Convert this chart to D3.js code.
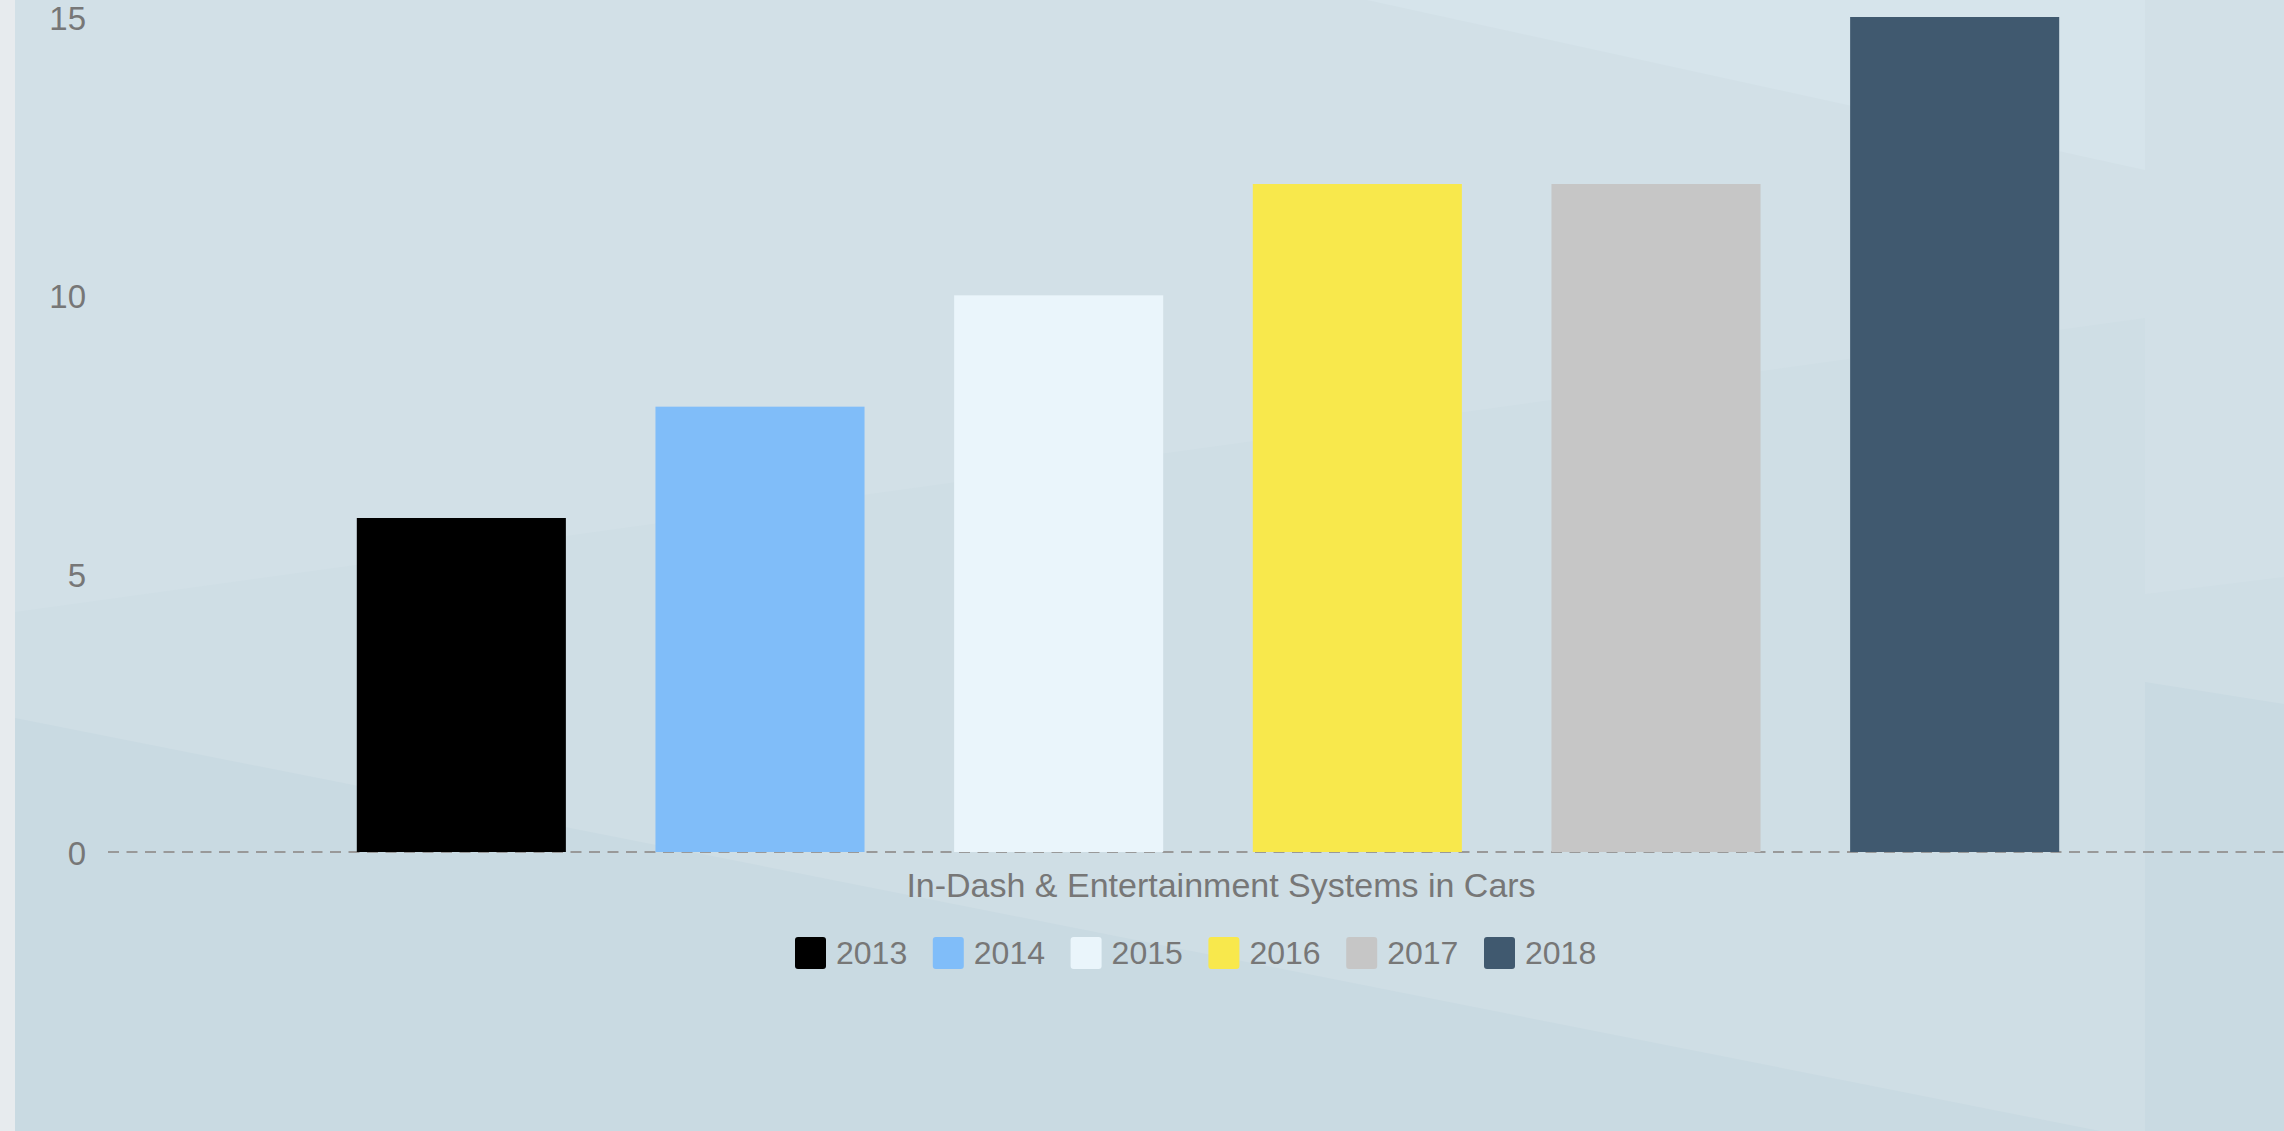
<!DOCTYPE html>
<html>
<head>
<meta charset="utf-8">
<title>In-Dash & Entertainment Systems in Cars</title>
<script src="https://d3js.org/d3.v7.min.js"></script>
<style>
    html, body { margin: 0; padding: 0; background: #d2e0e7; overflow: hidden; }
    svg { display: block; }
    text { font-family: "Liberation Sans", Arial, Helvetica, sans-serif; fill: #777; }
</style>
</head>
<body>
<svg id="drawing_region"></svg>
<script>
const category = "In-Dash & Entertainment Systems in Cars";
const years = ["2013", "2014", "2015", "2016", "2017", "2018"];
const values = [6, 8, 10, 12, 12, 15];
const colors = ["#000000", "#80bdf9", "#eaf5fb", "#f8e84c", "#c6c6c6", "#40596f"];
const yTicks = [0, 5, 10, 15];

var config = {
    parent: '#drawing_region',
    width: 2284,
    height: 1131,
    margin: {top: 17, left: 108, bottom: 279},
    barsLeft: 312,
    barsRight: 2104
};

class BarChart {

    constructor( config ) {
        this.config = config;
        this.data = years.map( (y, i) => ({ year: y, value: values[i], color: colors[i] }) );
        this.init();
    }

    init() {
        let self = this;

        self.svg = d3.select( self.config.parent )
            .attr('width', self.config.width)
            .attr('height', self.config.height);

        self.bottom = self.config.height - self.config.margin.bottom;

        // group band (one category) and year bands inside it
        self.x0 = d3.scaleBand()
            .domain( [category] )
            .range( [self.config.margin.left, 2334] );

        self.x1 = d3.scaleBand()
            .domain( years )
            .range( [self.config.barsLeft, self.config.barsRight] )
            .paddingInner(0.3)
            .paddingOuter(0.15);

        self.yscale = d3.scaleLinear()
            .domain( [0, 15] )
            .range( [self.bottom, self.config.margin.top] );

        self.yaxis = d3.axisLeft( self.yscale )
            .tickValues( yTicks )
            .tickSize(0)
            .tickPadding(22);
    }

    background() {
        let self = this;
        const W = self.config.width, H = self.config.height;
        const shapes = [
            { pts: [[0,0],[W,0],[W,H],[0,H]], fill: '#d2e0e7' },
            { pts: [[1367,0],[2145,0],[2145,170]], fill: '#d6e4eb' },
            { pts: [[15,612],[2145,318],[2145,H],[15,H]], fill: '#cfdee5' },
            { pts: [[15,718],[2100,H],[15,H]], fill: '#c9dae2' },
            { pts: [[2145,594],[W,577],[W,H],[2145,H]], fill: '#cfdee5' },
            { pts: [[2145,682],[W,704],[W,H],[2145,H]], fill: '#c9dae2' },
            { pts: [[0,0],[15,0],[15,H],[0,H]], fill: '#e7ebee' }
        ];
        self.svg.append('g')
            .selectAll('polygon')
            .data(shapes)
            .join('polygon')
            .attr('points', d => d.pts.map(p => p.join(',')).join(' '))
            .attr('fill', d => d.fill);
    }

    render() {
        let self = this;

        self.background();

        // zero line
        self.svg.append('line')
            .attr('x1', self.config.margin.left)
            .attr('x2', self.config.width)
            .attr('y1', self.yscale(0))
            .attr('y2', self.yscale(0))
            .attr('stroke', '#999')
            .attr('stroke-width', 2)
            .attr('stroke-dasharray', '11,7.5');

        self.svg.append('g')
            .selectAll('rect')
            .data(self.data)
            .join('rect')
            .attr('x', d => self.x1( d.year ))
            .attr('y', d => self.yscale( d.value ))
            .attr('width', self.x1.bandwidth())
            .attr('height', d => self.yscale(0) - self.yscale( d.value ))
            .attr('fill', d => d.color);

        const yaxis_group = self.svg.append('g')
            .attr('transform', `translate(${self.config.margin.left}, 0)`)
            .call( self.yaxis );
        yaxis_group.select('.domain').remove();
        yaxis_group.selectAll('text')
            .attr('fill', '#777')
            .attr('font-size', '33px')
            .attr('dy', '0.38em')
            .attr('font-family', null);

        // category label
        self.svg.append('text')
            .attr('x', self.x0(category) + self.x0.bandwidth() / 2)
            .attr('y', 897)
            .attr('text-anchor', 'middle')
            .attr('font-size', '34px')
            .text( category );

        // legend
        const legend = self.svg.append('g')
            .attr('transform', 'translate(795, 937)');

        const item = legend.selectAll('g')
            .data(self.data)
            .join('g')
            .attr('transform', (d, i) => `translate(${i * 137.8}, 0)`);

        item.append('rect')
            .attr('width', 31)
            .attr('height', 32)
            .attr('rx', 3)
            .attr('fill', d => d.color);

        item.append('text')
            .attr('x', 41)
            .attr('y', 27)
            .attr('font-size', '32px')
            .text(d => d.year);
    }
}

const bar_chart = new BarChart( config );
bar_chart.render();
</script>
</body>
</html>
